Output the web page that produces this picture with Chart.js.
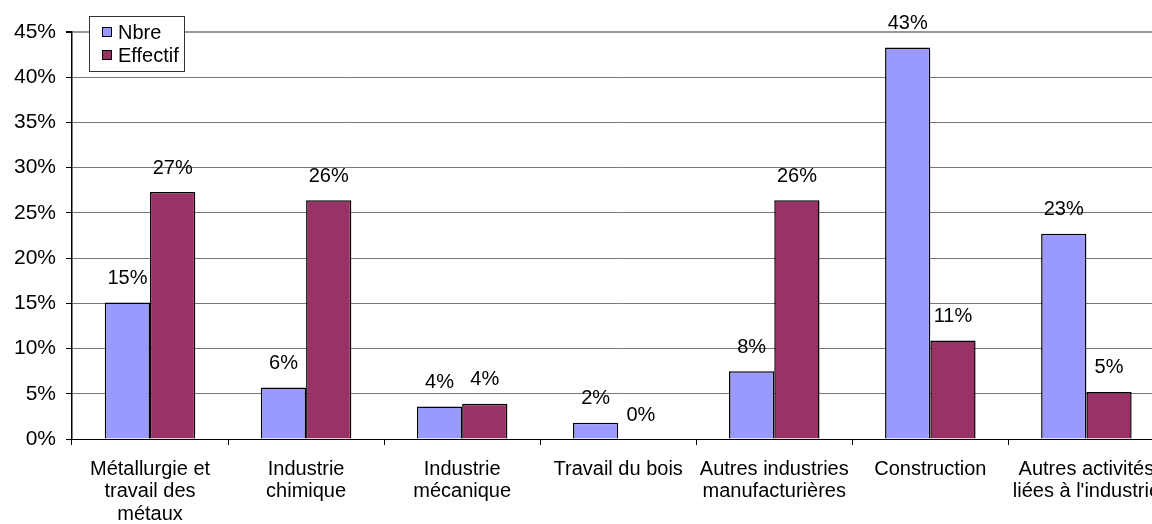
<!DOCTYPE html>
<html>
<head>
<meta charset="utf-8">
<script src="https://cdn.jsdelivr.net/npm/chart.js@4.4.1/dist/chart.umd.min.js"></script>
<style>
    html, body { margin: 0; padding: 0; background: #fff; overflow: hidden; }
    #wrap { width: 1173px; height: 524px; position: relative; }
</style>
</head>
<body>
<div id="wrap"><canvas id="chart"></canvas></div>
<script>
const categories = [
    ["Métallurgie et", "travail des", "métaux"],
    ["Industrie", "chimique"],
    ["Industrie", "mécanique"],
    "Travail du bois",
    ["Autres industries", "manufacturières"],
    "Construction",
    ["Autres activités", "liées à l'industrie"]
];
const seriesNames = ["Nbre", "Effectif"];
const nbre = [15.1, 5.7, 3.6, 1.8, 7.5, 43.3, 22.7];
const effectif = [27.3, 26.4, 3.9, 0, 26.4, 10.9, 5.2];
const colors = ["#9999ff", "#993366"];
const yTicks = [0, 5, 10, 15, 20, 25, 30, 35, 40, 45];

const FONT = "'Liberation Sans', Arial, sans-serif";

// labels over each bar, like excel
const barLabels = {
    id: 'barLabels',
    afterDatasetsDraw(chart) {
        let ctx = chart.ctx;
        ctx.save();
        ctx.font = "20px " + FONT;
        ctx.fillStyle = "#000";
        ctx.textAlign = "center";
        ctx.textBaseline = "bottom";
        chart.data.datasets.forEach((ds, i) => {
            chart.getDatasetMeta(i).data.forEach((bar, j) => {
                ctx.fillText(Math.round(ds.data[j]) + "%", bar.x, bar.y - 14);
            });
        });
        ctx.restore();
    }
};

// boxed legend sitting on top of the plot
const boxLegend = {
    id: 'boxLegend',
    afterDraw(chart) {
        let ctx = chart.ctx;
        let a = chart.chartArea;
        let x = a.left + 17, y = a.top - 16;
        ctx.save();
        ctx.fillStyle = "#fff";
        ctx.fillRect(x, y, 95, 55);
        ctx.strokeStyle = "#333";
        ctx.lineWidth = 1;
        ctx.strokeRect(x + 0.5, y + 0.5, 95, 55);
        ctx.font = "20px " + FONT;
        ctx.textBaseline = "middle";
        chart.data.datasets.forEach((ds, i) => {
            let cy = y + 16 + i * 23;
            ctx.fillStyle = ds.backgroundColor;
            ctx.fillRect(x + 13, cy - 5, 10, 10);
            ctx.strokeStyle = "#000";
            ctx.strokeRect(x + 13.5, cy - 4.5, 9, 9);
            ctx.fillStyle = "#000";
            ctx.fillText(ds.label, x + 29, cy + 1);
        });
        ctx.restore();
    }
};

new Chart(document.getElementById("chart"), {
    type: "bar",
    data: {
        labels: categories,
        datasets: [nbre, effectif].map((d, i) => ({
            label: seriesNames[i],
            data: d,
            backgroundColor: colors[i],
            borderColor: "#000",
            borderWidth: 1.5,
            borderSkipped: "bottom",
            categoryPercentage: 0.58,
            barPercentage: 1.0
        }))
    },
    options: {
        responsive: true,
        maintainAspectRatio: false,
        animation: false,
        layout: { padding: { top: 32, right: 0, left: 0, bottom: 0 } },
        plugins: {
            legend: { display: false },
            tooltip: { enabled: false }
        },
        scales: {
            x: {
                grid: {
                    offset: true,
                    drawOnChartArea: false,
                    drawTicks: true,
                    tickLength: 6,
                    color: "#000"
                },
                border: { color: "#000", width: 1 },
                ticks: {
                    color: "#000",
                    font: { family: FONT, size: 20, lineHeight: 1.12 },
                    maxRotation: 0,
                    autoSkip: false,
                    padding: 13
                },
                afterFit(scale) { scale.height = 85; }
            },
            y: {
                min: 0,
                max: 45,
                afterBuildTicks(scale) {
                    scale.ticks = yTicks.map(v => ({ value: v }));
                },
                grid: {
                    color: ctx => ctx.tick && ctx.tick.value === 45 ? "#999" : "#777",
                    lineWidth: ctx => ctx.tick && ctx.tick.value === 45 ? 2 : 1,
                    tickColor: "#000",
                    tickLength: 6
                },
                border: { color: "#000", width: 1.5 },
                ticks: {
                    color: "#000",
                    font: { family: FONT, size: 21 },
                    padding: 10,
                    callback: v => v + "%"
                },
                afterFit(scale) { scale.width = 72; }
            }
        }
    },
    plugins: [barLabels, boxLegend]
});
</script>
</body>
</html>
